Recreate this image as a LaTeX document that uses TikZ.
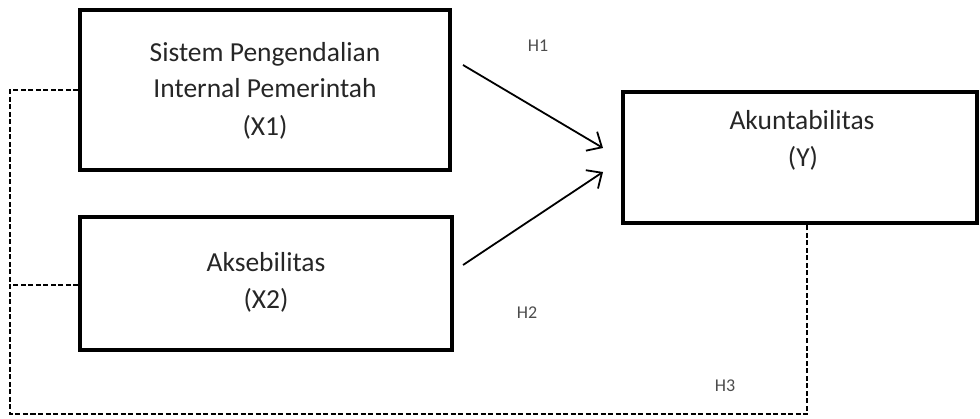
\documentclass[tikz,border=0pt]{standalone}
\usepackage{fontspec}
\setmainfont{Carlito}
\usetikzlibrary{arrows.meta}
\begin{document}
\begin{tikzpicture}[x=1pt,y=-1pt,
  varbox/.style={draw,line width=4pt,inner sep=0pt},
  lbl/.style={font=\fontsize{27.5}{31}\selectfont,inner sep=0pt,anchor=base,text=black!85},
  hyp/.style={font=\fontsize{18}{20}\selectfont,inner sep=0pt,text=black!70},
  link/.style={line width=1.8pt,-{Straight Barb[length=12pt,width=22pt,line width=1.8pt]}},
  dline/.style={line width=1.3pt,dash pattern=on 5pt off 2.5pt}]
\useasboundingbox (0,0) rectangle (980,419);
% boxes
\node[varbox,minimum width=370pt,minimum height=160pt] (x1) at (265,90) {};
\node[varbox,minimum width=372pt,minimum height=133pt] (x2) at (266,283.5) {};
\node[varbox,minimum width=354pt,minimum height=131pt] (y) at (800,157.5) {};
% texts
\node[lbl] (t1a) at (265,62) {Sistem Pengendalian};
\node[lbl] (t1b) at (265,98) {Internal Pemerintah};
\node[lbl] (t1c) at (265,136) {(X1)};
\node[lbl] (t2a) at (266,272) {Aksebilitas};
\node[lbl] (t2b) at (266,309) {(X2)};
\node[lbl] (t3a) at (802,130) {Akuntabilitas};
\node[lbl] (t3b) at (803,167) {(Y)};
% hypothesis labels
\node[hyp] (h1) at (538,46) {H1};
\node[hyp] (h2) at (527,313) {H2};
\node[hyp] (h3) at (725,386) {H3};
% arrows
\coordinate (a1s) at (463,65);
\coordinate (a1e) at (603,148);
\coordinate (a2s) at (463,265);
\coordinate (a2e) at (603,172);
\draw[link] (a1s) -- (a1e);
\draw[link] (a2s) -- (a2e);
% dashed links
\coordinate (c1) at (10,90);
\coordinate (c2) at (10,285);
\coordinate (c3) at (10,414);
\coordinate (c4) at (807,414);
\coordinate (c5) at (807,225);
\draw[dline] (x1.west |- c1) -- (c1) -- (c3) -- (c4) -- (c5);
\draw[dline] (x2.west |- c2) -- (c2);
\end{tikzpicture}
\end{document}
